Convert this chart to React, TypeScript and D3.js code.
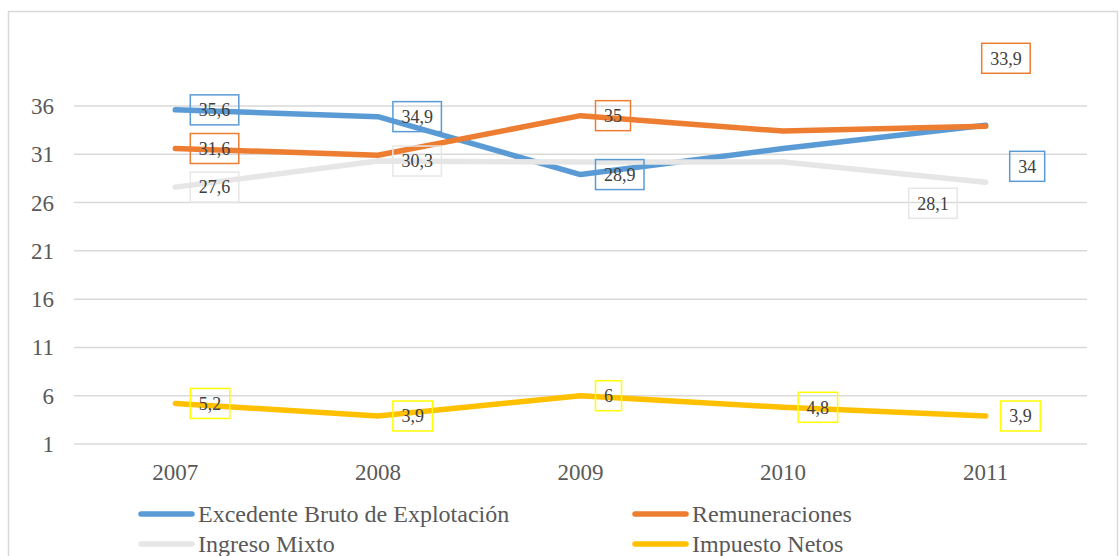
import React, { useEffect, useRef } from "react";
import * as d3 from "d3";

// categories
const years = ["2007", "2008", "2009", "2010", "2011"];
const yTicks = [1, 6, 11, 16, 21, 26, 31, 36];

// series values
const excedente = [35.6, 34.9, 28.9, 31.6, 34];
const remuneraciones = [31.6, 30.9, 35, 33.4, 33.9];
const ingresoMixto = [27.6, 30.3, 30.2, 30.2, 28.1];
const impuestoNetos = [5.2, 3.9, 6, 4.8, 3.9];

// which points carry a label (text shown)
const excedenteLabels = ["35,6", "34,9", "28,9", null, "34"];
const remuneracionesLabels = ["31,6", null, "35", null, "33,9"];
const ingresoLabels = ["27,6", "30,3", null, null, "28,1"];
const impuestoLabels = ["5,2", "3,9", "6", "4,8", "3,9"];

const series = [
  { name: "Excedente Bruto de Explotación", values: excedente, labels: excedenteLabels, color: "#5B9BD5", box: "#5B9BD5" },
  { name: "Remuneraciones", values: remuneraciones, labels: remuneracionesLabels, color: "#ED7D31", box: "#ED7D31" },
  { name: "Ingreso Mixto", values: ingresoMixto, labels: ingresoLabels, color: "#E7E6E6", box: "#E7E6E6" },
  { name: "Impuesto Netos", values: impuestoNetos, labels: impuestoLabels, color: "#FFC000", box: "#FFFF00" },
];

// manual label offsets (box left from point x, box center from point y)
const labelShift: number[][][] = [
  [[15, 0], [15, 0], [15, 0], [0, 0], [24, 41]],
  [[15, 0], [0, 0], [15, 0], [0, 0], [-4, -68]],
  [[15, 0], [15, 0], [0, 0], [0, 0], [-77, 21]],
  [[15, 0], [15, 0], [15, 0], [15, 0], [15, 0]],
];

const FONT = "'Liberation Serif', 'Times New Roman', serif";

function App() {
  const ref = useRef<SVGSVGElement | null>(null);

  useEffect(() => {
    drawChart();
  }, []);

  const drawChart = () => {
    const svg = d3.select(ref.current);
    svg.selectAll("*").remove();

    const left = 74, right = 1087;
    const x = d3.scalePoint<string>().domain(years).range([left, right]).padding(0.5);
    const y = d3.scaleLinear().domain([1, 40]).range([444, 444 - 39 * 9.657]);

    // outer frame
    svg.append("rect")
      .attr("x", 8.5).attr("y", 11.5)
      .attr("width", 1109).attr("height", 600)
      .attr("fill", "white")
      .attr("stroke", "#D9D9D9")
      .attr("stroke-width", 1.5);

    // gridlines
    svg.append("g")
      .selectAll("line")
      .data(yTicks)
      .enter()
      .append("line")
      .attr("x1", left).attr("x2", right)
      .attr("y1", d => y(d)).attr("y2", d => y(d))
      .attr("stroke", "#D9D9D9")
      .attr("stroke-width", 1.5);

    // y labels
    svg.append("g")
      .selectAll("text")
      .data(yTicks)
      .enter()
      .append("text")
      .attr("x", 54)
      .attr("y", d => y(d))
      .attr("dy", "0.35em")
      .attr("text-anchor", "end")
      .style("font-family", FONT)
      .style("font-size", "23px")
      .attr("fill", "#595959")
      .text(d => d);

    // x labels
    svg.append("g")
      .selectAll("text")
      .data(years)
      .enter()
      .append("text")
      .attr("x", d => x(d)!)
      .attr("y", 472)
      .attr("dy", "0.35em")
      .attr("text-anchor", "middle")
      .style("font-family", FONT)
      .style("font-size", "23px")
      .attr("fill", "#595959")
      .text(d => d);

    // lines
    const line = d3.line<number>()
      .x((d, i) => x(years[i])!)
      .y(d => y(d));

    series.forEach(s => {
      svg.append("path")
        .datum(s.values)
        .attr("d", line)
        .attr("fill", "none")
        .attr("stroke", s.color)
        .attr("stroke-width", 5.5)
        .attr("stroke-linecap", "round")
        .attr("stroke-linejoin", "round");
    });

    // data labels
    series.forEach((s, si) => {
      s.values.forEach((v, i) => {
        const label = s.labels[i];
        if (!label) return;
        const [dx, dy] = labelShift[si][i];
        const g = svg.append("g");
        const t = g.append("text")
          .style("font-family", FONT)
          .style("font-size", "18px")
          .attr("fill", "#404040")
          .attr("text-anchor", "middle")
          .attr("dy", "0.35em")
          .text(label);
        const w = (t.node() as SVGTextElement).getComputedTextLength() + 17;
        const bx = x(years[i])! + dx;
        const cy = y(v) + dy;
        t.attr("x", bx + w / 2).attr("y", cy);
        g.insert("rect", "text")
          .attr("x", bx).attr("y", cy - 15)
          .attr("width", w).attr("height", 30)
          .attr("fill", "none")
          .attr("stroke", s.box)
          .attr("stroke-width", 1.5);
      });
    });

    // legend
    const legendPos = [[139, 514], [633, 514], [139, 544], [633, 544]];
    series.forEach((s, i) => {
      const [lx, ly] = legendPos[i];
      svg.append("line")
        .attr("x1", lx + 2).attr("x2", lx + 53)
        .attr("y1", ly).attr("y2", ly)
        .attr("stroke", s.color)
        .attr("stroke-width", 5.5)
        .attr("stroke-linecap", "round");
      svg.append("text")
        .attr("x", lx + 59)
        .attr("y", ly)
        .attr("dy", "0.35em")
        .style("font-family", FONT)
        .style("font-size", "24px")
        .attr("fill", "#595959")
        .text(s.name);
    });
  };

  return (
    <svg
      ref={ref}
      width={1119}
      height={556}
      style={{ position: "absolute", left: 0, top: 0, display: "block" }}
    ></svg>
  );
}

export default App;
